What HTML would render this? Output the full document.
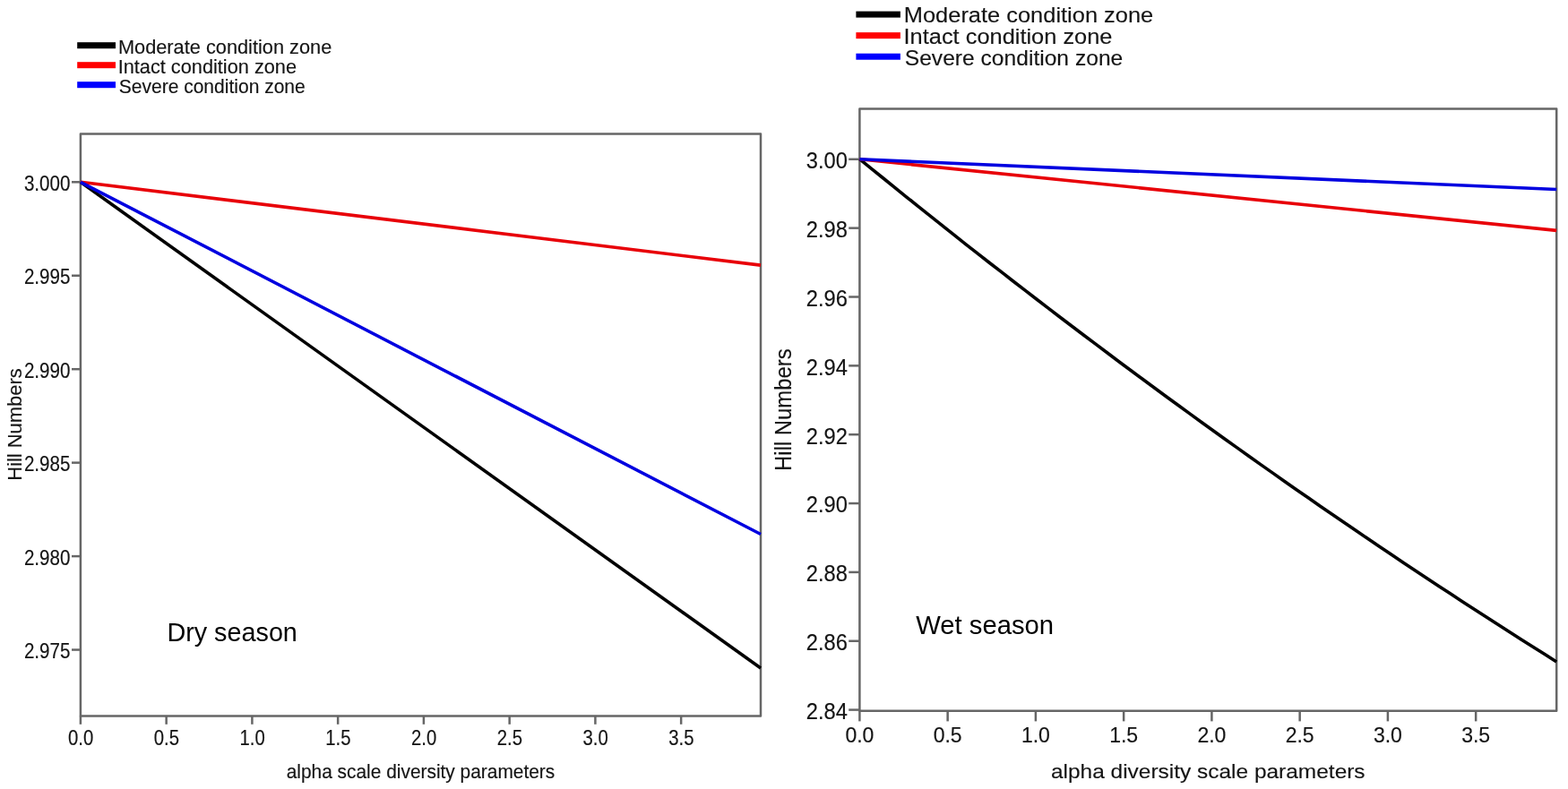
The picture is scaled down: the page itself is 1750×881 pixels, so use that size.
<!DOCTYPE html>
<html><head><meta charset="utf-8"><title>Hill Numbers - Dry and Wet season</title>
<style>
html,body{margin:0;padding:0;background:#fff;}
body{width:1750px;height:881px;overflow:hidden;}
svg{display:block;font-family:"Liberation Sans", Arial, sans-serif;}
</style></head><body>
<svg width="1750" height="881" viewBox="0 0 1750 881">
<rect width="1750" height="881" fill="#fff"/>
<rect x="86.2" y="47.20" width="42.8" height="7" fill="#000"/>
<text transform="translate(131.89,59.60) scale(1.0030,1)" font-size="21.71" fill="#141414" stroke="#141414" stroke-width="0.150">Moderate condition zone</text>
<rect x="86.2" y="69.20" width="42.8" height="7" fill="#ff0000"/>
<text transform="translate(131.67,81.60) scale(1.0013,1)" font-size="21.71" fill="#141414" stroke="#141414" stroke-width="0.150">Intact condition zone</text>
<rect x="86.2" y="91.20" width="42.8" height="7" fill="#0000ff"/>
<text transform="translate(132.72,103.60) scale(0.9692,1)" font-size="21.71" fill="#141414" stroke="#141414" stroke-width="0.155">Severe condition zone</text>
<rect x="89.9" y="149.6" width="759.1" height="650.0" fill="none" stroke="#666666" stroke-width="2.5" stroke-linejoin="round"/>
<line x1="80" y1="203.30" x2="89.9" y2="203.30" stroke="#666666" stroke-width="2.5"/>
<text transform="translate(78.40,213.01) scale(0.8713,1)" font-size="23.63" fill="#141414" stroke="#141414" stroke-width="0.172" text-anchor="end">3.000</text>
<line x1="80" y1="307.75" x2="89.9" y2="307.75" stroke="#666666" stroke-width="2.5"/>
<text transform="translate(78.40,317.46) scale(0.8713,1)" font-size="23.63" fill="#141414" stroke="#141414" stroke-width="0.172" text-anchor="end">2.995</text>
<line x1="80" y1="412.20" x2="89.9" y2="412.20" stroke="#666666" stroke-width="2.5"/>
<text transform="translate(78.40,421.91) scale(0.8713,1)" font-size="23.63" fill="#141414" stroke="#141414" stroke-width="0.172" text-anchor="end">2.990</text>
<line x1="80" y1="516.65" x2="89.9" y2="516.65" stroke="#666666" stroke-width="2.5"/>
<text transform="translate(78.40,526.36) scale(0.8713,1)" font-size="23.63" fill="#141414" stroke="#141414" stroke-width="0.172" text-anchor="end">2.985</text>
<line x1="80" y1="621.10" x2="89.9" y2="621.10" stroke="#666666" stroke-width="2.5"/>
<text transform="translate(78.40,630.81) scale(0.8713,1)" font-size="23.63" fill="#141414" stroke="#141414" stroke-width="0.172" text-anchor="end">2.980</text>
<line x1="80" y1="725.55" x2="89.9" y2="725.55" stroke="#666666" stroke-width="2.5"/>
<text transform="translate(78.40,735.26) scale(0.8713,1)" font-size="23.63" fill="#141414" stroke="#141414" stroke-width="0.172" text-anchor="end">2.975</text>
<line x1="89.90" y1="799.6" x2="89.90" y2="808.8" stroke="#666666" stroke-width="2.5"/>
<text transform="translate(90.10,832.27) scale(0.8749,1)" font-size="23.21" fill="#141414" stroke="#141414" stroke-width="0.171" text-anchor="middle">0.0</text>
<line x1="185.65" y1="799.6" x2="185.65" y2="808.8" stroke="#666666" stroke-width="2.5"/>
<text transform="translate(185.85,832.27) scale(0.8749,1)" font-size="23.21" fill="#141414" stroke="#141414" stroke-width="0.171" text-anchor="middle">0.5</text>
<line x1="281.40" y1="799.6" x2="281.40" y2="808.8" stroke="#666666" stroke-width="2.5"/>
<text transform="translate(281.60,832.27) scale(0.8749,1)" font-size="23.21" fill="#141414" stroke="#141414" stroke-width="0.171" text-anchor="middle">1.0</text>
<line x1="377.15" y1="799.6" x2="377.15" y2="808.8" stroke="#666666" stroke-width="2.5"/>
<text transform="translate(377.35,832.27) scale(0.8749,1)" font-size="23.21" fill="#141414" stroke="#141414" stroke-width="0.171" text-anchor="middle">1.5</text>
<line x1="472.90" y1="799.6" x2="472.90" y2="808.8" stroke="#666666" stroke-width="2.5"/>
<text transform="translate(473.10,832.27) scale(0.8749,1)" font-size="23.21" fill="#141414" stroke="#141414" stroke-width="0.171" text-anchor="middle">2.0</text>
<line x1="568.65" y1="799.6" x2="568.65" y2="808.8" stroke="#666666" stroke-width="2.5"/>
<text transform="translate(568.85,832.27) scale(0.8749,1)" font-size="23.21" fill="#141414" stroke="#141414" stroke-width="0.171" text-anchor="middle">2.5</text>
<line x1="664.40" y1="799.6" x2="664.40" y2="808.8" stroke="#666666" stroke-width="2.5"/>
<text transform="translate(664.60,832.27) scale(0.8749,1)" font-size="23.21" fill="#141414" stroke="#141414" stroke-width="0.171" text-anchor="middle">3.0</text>
<line x1="760.15" y1="799.6" x2="760.15" y2="808.8" stroke="#666666" stroke-width="2.5"/>
<text transform="translate(760.35,832.27) scale(0.8749,1)" font-size="23.21" fill="#141414" stroke="#141414" stroke-width="0.171" text-anchor="middle">3.5</text>
<polyline points="89.9,203.3 849.0,746.0" fill="none" stroke="#000" stroke-width="3.6"/>
<polyline points="89.9,203.3 849.0,296.1" fill="none" stroke="#e80008" stroke-width="3.6"/>
<polyline points="89.9,203.3 849.0,596.5" fill="none" stroke="#0000e0" stroke-width="3.6"/>
<text transform="translate(319.69,868.80) scale(0.9507,1)" font-size="21.98" fill="#141414" stroke="#141414" stroke-width="0.158">alpha scale diversity parameters</text>
<text transform="translate(23.90,536.83) rotate(-90) scale(1.0244,1)" font-size="21.43" fill="#141414" stroke="#141414" stroke-width="0.146">Hill Numbers</text>
<text transform="translate(186.40,716.40) scale(0.9880,1)" font-size="29.13" fill="#000">Dry season</text>
<rect x="955.4" y="12.60" width="49.5" height="7" fill="#000"/>
<text transform="translate(1008.78,25.20) scale(1.1018,1)" font-size="23.09" fill="#141414" stroke="#141414" stroke-width="0.136">Moderate condition zone</text>
<rect x="955.4" y="36.15" width="49.5" height="7" fill="#ff0000"/>
<text transform="translate(1008.53,48.90) scale(1.1000,1)" font-size="23.09" fill="#141414" stroke="#141414" stroke-width="0.136">Intact condition zone</text>
<rect x="955.4" y="59.70" width="49.5" height="7" fill="#0000ff"/>
<text transform="translate(1009.75,72.60) scale(1.0658,1)" font-size="23.09" fill="#141414" stroke="#141414" stroke-width="0.141">Severe condition zone</text>
<rect x="959.4" y="121.6" width="777.8" height="672.1" fill="none" stroke="#666666" stroke-width="2.5" stroke-linejoin="round"/>
<line x1="947.2" y1="177.80" x2="959.4" y2="177.80" stroke="#666666" stroke-width="2.5"/>
<text transform="translate(945.94,188.15) scale(0.9400,1)" font-size="25.19" fill="#141414" stroke="#141414" stroke-width="0.160" text-anchor="end">3.00</text>
<line x1="947.2" y1="254.65" x2="959.4" y2="254.65" stroke="#666666" stroke-width="2.5"/>
<text transform="translate(945.94,265.00) scale(0.9400,1)" font-size="25.19" fill="#141414" stroke="#141414" stroke-width="0.160" text-anchor="end">2.98</text>
<line x1="947.2" y1="331.50" x2="959.4" y2="331.50" stroke="#666666" stroke-width="2.5"/>
<text transform="translate(945.94,341.85) scale(0.9400,1)" font-size="25.19" fill="#141414" stroke="#141414" stroke-width="0.160" text-anchor="end">2.96</text>
<line x1="947.2" y1="408.35" x2="959.4" y2="408.35" stroke="#666666" stroke-width="2.5"/>
<text transform="translate(945.94,418.70) scale(0.9400,1)" font-size="25.19" fill="#141414" stroke="#141414" stroke-width="0.160" text-anchor="end">2.94</text>
<line x1="947.2" y1="485.20" x2="959.4" y2="485.20" stroke="#666666" stroke-width="2.5"/>
<text transform="translate(945.94,495.55) scale(0.9400,1)" font-size="25.19" fill="#141414" stroke="#141414" stroke-width="0.160" text-anchor="end">2.92</text>
<line x1="947.2" y1="562.05" x2="959.4" y2="562.05" stroke="#666666" stroke-width="2.5"/>
<text transform="translate(945.94,572.40) scale(0.9400,1)" font-size="25.19" fill="#141414" stroke="#141414" stroke-width="0.160" text-anchor="end">2.90</text>
<line x1="947.2" y1="638.90" x2="959.4" y2="638.90" stroke="#666666" stroke-width="2.5"/>
<text transform="translate(945.94,649.25) scale(0.9400,1)" font-size="25.19" fill="#141414" stroke="#141414" stroke-width="0.160" text-anchor="end">2.88</text>
<line x1="947.2" y1="715.75" x2="959.4" y2="715.75" stroke="#666666" stroke-width="2.5"/>
<text transform="translate(945.94,726.10) scale(0.9400,1)" font-size="25.19" fill="#141414" stroke="#141414" stroke-width="0.160" text-anchor="end">2.86</text>
<line x1="947.2" y1="792.60" x2="959.4" y2="792.60" stroke="#666666" stroke-width="2.5"/>
<text transform="translate(945.94,802.95) scale(0.9400,1)" font-size="25.19" fill="#141414" stroke="#141414" stroke-width="0.160" text-anchor="end">2.84</text>
<line x1="959.40" y1="793.7" x2="959.40" y2="805.4" stroke="#666666" stroke-width="2.5"/>
<text transform="translate(959.40,829.35) scale(0.9309,1)" font-size="24.76" fill="#141414" stroke="#141414" stroke-width="0.161" text-anchor="middle">0.0</text>
<line x1="1057.65" y1="793.7" x2="1057.65" y2="805.4" stroke="#666666" stroke-width="2.5"/>
<text transform="translate(1057.65,829.35) scale(0.9309,1)" font-size="24.76" fill="#141414" stroke="#141414" stroke-width="0.161" text-anchor="middle">0.5</text>
<line x1="1155.90" y1="793.7" x2="1155.90" y2="805.4" stroke="#666666" stroke-width="2.5"/>
<text transform="translate(1155.90,829.35) scale(0.9309,1)" font-size="24.76" fill="#141414" stroke="#141414" stroke-width="0.161" text-anchor="middle">1.0</text>
<line x1="1254.15" y1="793.7" x2="1254.15" y2="805.4" stroke="#666666" stroke-width="2.5"/>
<text transform="translate(1254.15,829.35) scale(0.9309,1)" font-size="24.76" fill="#141414" stroke="#141414" stroke-width="0.161" text-anchor="middle">1.5</text>
<line x1="1352.40" y1="793.7" x2="1352.40" y2="805.4" stroke="#666666" stroke-width="2.5"/>
<text transform="translate(1352.40,829.35) scale(0.9309,1)" font-size="24.76" fill="#141414" stroke="#141414" stroke-width="0.161" text-anchor="middle">2.0</text>
<line x1="1450.65" y1="793.7" x2="1450.65" y2="805.4" stroke="#666666" stroke-width="2.5"/>
<text transform="translate(1450.65,829.35) scale(0.9309,1)" font-size="24.76" fill="#141414" stroke="#141414" stroke-width="0.161" text-anchor="middle">2.5</text>
<line x1="1548.90" y1="793.7" x2="1548.90" y2="805.4" stroke="#666666" stroke-width="2.5"/>
<text transform="translate(1548.90,829.35) scale(0.9309,1)" font-size="24.76" fill="#141414" stroke="#141414" stroke-width="0.161" text-anchor="middle">3.0</text>
<line x1="1647.15" y1="793.7" x2="1647.15" y2="805.4" stroke="#666666" stroke-width="2.5"/>
<text transform="translate(1647.15,829.35) scale(0.9309,1)" font-size="24.76" fill="#141414" stroke="#141414" stroke-width="0.161" text-anchor="middle">3.5</text>
<polyline points="959.4,177.6 972.6,188.3 985.8,199.0 998.9,209.7 1012.1,220.3 1025.3,230.9 1038.5,241.4 1051.7,251.9 1064.9,262.4 1078.0,272.8 1091.2,283.1 1104.4,293.5 1117.6,303.7 1130.8,314.0 1144.0,324.2 1157.1,334.3 1170.3,344.4 1183.5,354.5 1196.7,364.5 1209.9,374.5 1223.1,384.4 1236.2,394.3 1249.4,404.2 1262.6,414.0 1275.8,423.8 1289.0,433.5 1302.2,443.2 1315.3,452.8 1328.5,462.4 1341.7,472.0 1354.9,481.5 1368.1,491.0 1381.3,500.4 1394.4,509.8 1407.6,519.1 1420.8,528.4 1434.0,537.7 1447.2,546.9 1460.4,556.1 1473.5,565.2 1486.7,574.3 1499.9,583.3 1513.1,592.3 1526.3,601.3 1539.5,610.2 1552.6,619.1 1565.8,627.9 1579.0,636.7 1592.2,645.5 1605.4,654.2 1618.6,662.8 1631.7,671.4 1644.9,680.0 1658.1,688.6 1671.3,697.1 1684.5,705.5 1697.7,713.9 1710.8,722.3 1724.0,730.6 1737.2,738.9" fill="none" stroke="#000" stroke-width="3.6"/>
<polyline points="959.4,177.8 1737.2,257.4" fill="none" stroke="#e80008" stroke-width="3.6"/>
<polyline points="959.4,177.8 1737.2,211.5" fill="none" stroke="#0000e0" stroke-width="3.6"/>
<text transform="translate(1172.94,868.60) scale(1.1348,1)" font-size="21.57" fill="#141414" stroke="#141414" stroke-width="0.132">alpha diversity scale parameters</text>
<text transform="translate(882.50,525.89) rotate(-90) scale(0.9380,1)" font-size="25.44" fill="#141414" stroke="#141414" stroke-width="0.160">Hill Numbers</text>
<text transform="translate(1022.20,707.90) scale(0.9949,1)" font-size="29.42" fill="#000">Wet season</text>
</svg>
</body></html>
